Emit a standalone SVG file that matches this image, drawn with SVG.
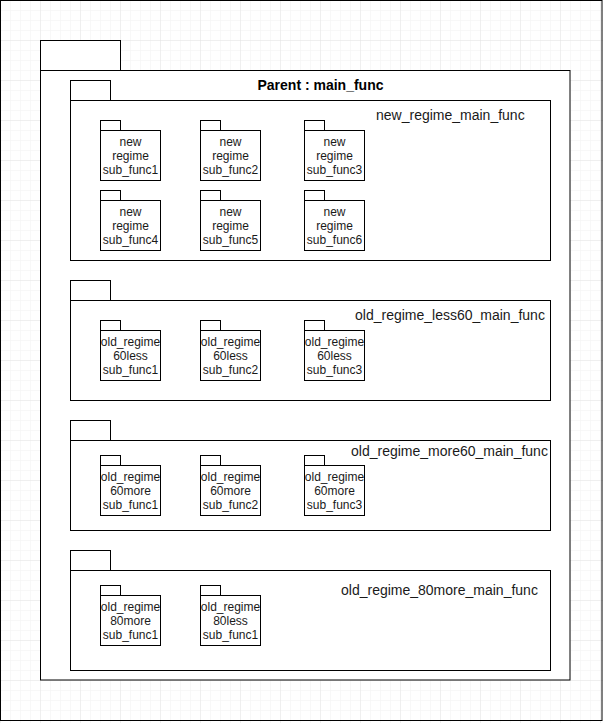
<svg xmlns="http://www.w3.org/2000/svg" width="603" height="723" viewBox="0 0 603 723">
  <defs>
    <pattern id="minor" width="10" height="10" patternUnits="userSpaceOnUse">
      <path d="M10 0 L0 0 0 10" fill="none" stroke="#f2f2f2" stroke-width="1"/>
    </pattern>
    <pattern id="major" width="40" height="40" patternUnits="userSpaceOnUse">
      <rect width="40" height="40" fill="url(#minor)"/>
      <path d="M40 0 L0 0 0 40" fill="none" stroke="#e4e4e4" stroke-width="1"/>
    </pattern>
  </defs>
  <style>
    .pkg { fill: #ffffff; stroke: #000000; stroke-width: 1; }
    .big { font-family: "Liberation Sans", Arial, sans-serif; font-size: 14px; fill: #1a1a1a; }
    .title { font-family: "Liberation Sans", Arial, sans-serif; font-size: 14px; font-weight: bold; fill: #000000; }
    .sub { font-family: "Liberation Sans", Arial, sans-serif; font-size: 12px; fill: #1a1a1a; text-anchor: middle; }
  </style>

  <!-- canvas with grid -->
  <rect x="0" y="0" width="603" height="723" fill="#ffffff"/>
  <rect x="0" y="0" width="603" height="723" fill="url(#major)"/>
  <rect x="0.5" y="0.5" width="601.5" height="720" fill="none" stroke="#000000"/>

  <!-- outer package -->
  <g id="main_func">
    <rect class="pkg" x="40.5" y="40.5" width="80" height="30"/>
    <rect class="pkg" x="40.5" y="70.5" width="529.5" height="609.5"/>
    <text class="title" x="320.5" y="90" text-anchor="middle">Parent : main_func</text>
  </g>

  <!-- new regime -->
  <g id="new_regime_main_func">
    <rect class="pkg" x="70.5" y="80.5" width="40" height="20"/>
    <rect class="pkg" x="70.5" y="100.5" width="480" height="160"/>
    <text class="big" x="376" y="120">new_regime_main_func</text>
  </g>
  <g id="nr_sub_func1">
    <rect class="pkg" x="100.5" y="120.5" width="20" height="10"/>
    <rect class="pkg" x="100.5" y="130.5" width="60" height="50"/>
    <text class="sub" x="130.5" y="146">new</text>
    <text class="sub" x="130.5" y="160">regime</text>
    <text class="sub" x="130.5" y="174">sub_func1</text>
  </g>
  <g id="nr_sub_func2">
    <rect class="pkg" x="200.5" y="120.5" width="20" height="10"/>
    <rect class="pkg" x="200.5" y="130.5" width="60" height="50"/>
    <text class="sub" x="230.5" y="146">new</text>
    <text class="sub" x="230.5" y="160">regime</text>
    <text class="sub" x="230.5" y="174">sub_func2</text>
  </g>
  <g id="nr_sub_func3">
    <rect class="pkg" x="304.5" y="120.5" width="20" height="10"/>
    <rect class="pkg" x="304.5" y="130.5" width="60" height="50" stroke="#555555" stroke-width="1.5"/>
    <text class="sub" x="334.5" y="146">new</text>
    <text class="sub" x="334.5" y="160">regime</text>
    <text class="sub" x="334.5" y="174">sub_func3</text>
  </g>
  <g id="nr_sub_func4">
    <rect class="pkg" x="100.5" y="190.5" width="20" height="10"/>
    <rect class="pkg" x="100.5" y="200.5" width="60" height="50"/>
    <text class="sub" x="130.5" y="216">new</text>
    <text class="sub" x="130.5" y="230">regime</text>
    <text class="sub" x="130.5" y="244">sub_func4</text>
  </g>
  <g id="nr_sub_func5">
    <rect class="pkg" x="200.5" y="190.5" width="20" height="10"/>
    <rect class="pkg" x="200.5" y="200.5" width="60" height="50"/>
    <text class="sub" x="230.5" y="216">new</text>
    <text class="sub" x="230.5" y="230">regime</text>
    <text class="sub" x="230.5" y="244">sub_func5</text>
  </g>
  <g id="nr_sub_func6">
    <rect class="pkg" x="304.5" y="190.5" width="20" height="10"/>
    <rect class="pkg" x="304.5" y="200.5" width="60" height="50"/>
    <text class="sub" x="334.5" y="216">new</text>
    <text class="sub" x="334.5" y="230">regime</text>
    <text class="sub" x="334.5" y="244">sub_func6</text>
  </g>

  <!-- old regime, under 60 -->
  <g id="old_regime_less60_main_func">
    <rect class="pkg" x="70.5" y="280.5" width="40" height="20"/>
    <rect class="pkg" x="70.5" y="300.5" width="480" height="100"/>
    <text class="big" x="355" y="320">old_regime_less60_main_func</text>
  </g>
  <g id="l60_sub_func1">
    <rect class="pkg" x="100.5" y="320.5" width="20" height="10"/>
    <rect class="pkg" x="100.5" y="330.5" width="60" height="50"/>
    <text class="sub" x="130.5" y="346">old_regime</text>
    <text class="sub" x="130.5" y="360">60less</text>
    <text class="sub" x="130.5" y="374">sub_func1</text>
  </g>
  <g id="l60_sub_func2">
    <rect class="pkg" x="200.5" y="320.5" width="20" height="10"/>
    <rect class="pkg" x="200.5" y="330.5" width="60" height="50"/>
    <text class="sub" x="230.5" y="346">old_regime</text>
    <text class="sub" x="230.5" y="360">60less</text>
    <text class="sub" x="230.5" y="374">sub_func2</text>
  </g>
  <g id="l60_sub_func3">
    <rect class="pkg" x="304.5" y="320.5" width="20" height="10"/>
    <rect class="pkg" x="304.5" y="330.5" width="60" height="50"/>
    <text class="sub" x="334.5" y="346">old_regime</text>
    <text class="sub" x="334.5" y="360">60less</text>
    <text class="sub" x="334.5" y="374">sub_func3</text>
  </g>

  <!-- old regime, 60 and over -->
  <g id="old_regime_more60_main_func">
    <rect class="pkg" x="70.5" y="420.5" width="40" height="20"/>
    <rect class="pkg" x="70.5" y="440.5" width="480" height="90"/>
    <text class="big" x="351" y="455.5">old_regime_more60_main_func</text>
  </g>
  <g id="m60_sub_func1">
    <rect class="pkg" x="100.5" y="455.5" width="20" height="10"/>
    <rect class="pkg" x="100.5" y="465.5" width="60" height="50"/>
    <text class="sub" x="130.5" y="481">old_regime</text>
    <text class="sub" x="130.5" y="495">60more</text>
    <text class="sub" x="130.5" y="509">sub_func1</text>
  </g>
  <g id="m60_sub_func2">
    <rect class="pkg" x="200.5" y="455.5" width="20" height="10"/>
    <rect class="pkg" x="200.5" y="465.5" width="60" height="50"/>
    <text class="sub" x="230.5" y="481">old_regime</text>
    <text class="sub" x="230.5" y="495">60more</text>
    <text class="sub" x="230.5" y="509">sub_func2</text>
  </g>
  <g id="m60_sub_func3">
    <rect class="pkg" x="304.5" y="455.5" width="20" height="10"/>
    <rect class="pkg" x="304.5" y="465.5" width="60" height="50"/>
    <text class="sub" x="334.5" y="481">old_regime</text>
    <text class="sub" x="334.5" y="495">60more</text>
    <text class="sub" x="334.5" y="509">sub_func3</text>
  </g>

  <!-- old regime, 80 and over -->
  <g id="old_regime_80more_main_func">
    <rect class="pkg" x="70.5" y="550.5" width="40" height="20"/>
    <rect class="pkg" x="70.5" y="570.5" width="480" height="100"/>
    <text class="big" x="341" y="595">old_regime_80more_main_func</text>
  </g>
  <g id="m80_sub_func1">
    <rect class="pkg" x="100.5" y="585.5" width="20" height="10"/>
    <rect class="pkg" x="100.5" y="595.5" width="60" height="50"/>
    <text class="sub" x="130.5" y="611">old_regime</text>
    <text class="sub" x="130.5" y="625">80more</text>
    <text class="sub" x="130.5" y="639">sub_func1</text>
  </g>
  <g id="l80_sub_func1">
    <rect class="pkg" x="200.5" y="585.5" width="20" height="10"/>
    <rect class="pkg" x="200.5" y="595.5" width="60" height="50"/>
    <text class="sub" x="230.5" y="611">old_regime</text>
    <text class="sub" x="230.5" y="625">80less</text>
    <text class="sub" x="230.5" y="639">sub_func1</text>
  </g>

  <!-- no connectors in this diagram -->
  <g id="connectors"/>
</svg>
